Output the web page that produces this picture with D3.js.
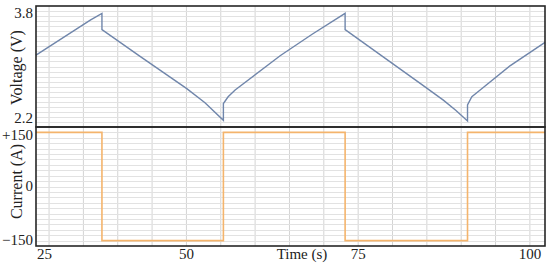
<!DOCTYPE html>
<html>
<head>
<meta charset="utf-8">
<script src="https://cdn.jsdelivr.net/npm/d3@7"></script>
<style>
  html, body { margin: 0; padding: 0; background: #fff; }
  text { font-family: "Liberation Serif", "Times New Roman", serif; fill: #222; }
</style>
</head>
<body>
<svg id="chart" width="550" height="265"></svg>
<script>
// voltage trace
var voltTime = [28.1, 36.0, 37.7, 37.7, 43.25, 50.05, 52.7, 55.38, 55.38, 56.07, 57.09, 63.64, 68.3, 73.1,
                73.1, 84.03, 87.4, 89.2, 90.92, 90.92, 91.55, 92.76, 97.1, 102.2];
var voltage  = [3.17, 3.69, 3.79, 3.55, 3.15, 2.67, 2.46, 2.20, 2.45, 2.55, 2.65, 3.16, 3.48, 3.79,
                3.55, 2.75, 2.50, 2.35, 2.19, 2.43, 2.55, 2.65, 3.01, 3.36];

// current steps
var currTime = [28.1, 37.7, 55.38, 73.1, 90.92, 102.2];
var current  = [150, -150, 150, -150, 150, 150];

var timeTicks = [25, 50, 75, 100];
var voltTicks = [2.2, 3.8];
var currTicks = [-150, 0, 150];
var currTickLabels = ["\u2212150", "0", "+150"];

var svg = d3.select("#chart");

var left = 36, right = 545,
    top1 = 6, mid = 127, bottom = 246;

var x = d3.scaleLinear().domain([28.1, 102.2]).range([left, right]);
var yV = d3.scaleLinear().domain([2.1, 3.9]).range([mid, top1]);
var yI = d3.scaleLinear().domain([-165, 165]).range([bottom, mid]);

// gridlines
var grid = svg.append("g");
var vGrid = d3.range(30, 101, 5);
[[top1, mid], [mid, bottom]].forEach(function(p) {
    grid.selectAll(null)
        .data(vGrid)
        .enter()
        .append("line")
        .attr("x1", function(d) { return x(d); })
        .attr("x2", function(d) { return x(d); })
        .attr("y1", p[0])
        .attr("y2", p[1])
        .attr("stroke", "#d4d4d4")
        .attr("stroke-width", 1);
});

grid.selectAll(null)
    .data(d3.range(1, 24).map(function(i) { return 2.1 + i * 0.075; }))
    .enter()
    .append("line")
    .attr("x1", left).attr("x2", right)
    .attr("y1", function(d) { return Math.round(yV(d)) + 0.5; })
    .attr("y2", function(d) { return Math.round(yV(d)) + 0.5; })
    .attr("stroke", "#e2e2e2");

grid.selectAll(null)
    .data(d3.range(-150, 151, 15))
    .enter()
    .append("line")
    .attr("x1", left).attr("x2", right)
    .attr("y1", function(d) { return Math.round(yI(d)) + 0.5; })
    .attr("y2", function(d) { return Math.round(yI(d)) + 0.5; })
    .attr("stroke", "#e2e2e2");

// voltage line
var vLine = d3.line()
    .x(function(d, i) { return x(voltTime[i]); })
    .y(function(d) { return yV(d); });

svg.append("path")
    .attr("d", vLine(voltage))
    .attr("fill", "none")
    .attr("stroke", "#7086ab")
    .attr("stroke-width", 1.4);

// current line
var iLine = d3.line()
    .x(function(d, i) { return x(currTime[i]); })
    .y(function(d) { return yI(d); })
    .curve(d3.curveStepAfter);

svg.append("path")
    .attr("d", iLine(current))
    .attr("fill", "none")
    .attr("stroke", "#f4b46c")
    .attr("stroke-width", 1.6);

// frames
[[top1, mid], [mid, bottom]].forEach(function(p) {
    svg.append("rect")
        .attr("x", left).attr("y", p[0])
        .attr("width", right - left).attr("height", p[1] - p[0])
        .attr("fill", "none")
        .attr("stroke", "#262626")
        .attr("stroke-width", 1.6);
});

// y tick labels, kept off the divider between the panels
svg.selectAll(".vt")
    .data(voltTicks)
    .enter()
    .append("text")
    .attr("x", left - 3)
    .attr("y", function(d) { return Math.min(yV(d) + 5, mid - 4); })
    .attr("text-anchor", "end")
    .style("font-size", "15px")
    .text(function(d) { return d.toFixed(1); });

svg.selectAll(".it")
    .data(currTicks)
    .enter()
    .append("text")
    .attr("x", left - 3)
    .attr("y", function(d) { return Math.max(yI(d) + 4, mid + 13); })
    .attr("text-anchor", "end")
    .style("font-size", "15px")
    .text(function(d, i) { return currTickLabels[i]; });

// x tick labels (end labels pulled inside the frame)
svg.selectAll(".xt")
    .data(timeTicks)
    .enter()
    .append("text")
    .attr("x", function(d) { return Math.max(left + 1, Math.min(right, x(d))); })
    .attr("y", 259)
    .attr("text-anchor", function(d) {
        if (x(d) < left) return "start";
        if (x(d) > right - 10) return "end";
        return "middle";
    })
    .style("font-size", "15px")
    .text(function(d) { return d; });

svg.append("text")
    .attr("x", 302)
    .attr("y", 259)
    .attr("text-anchor", "middle")
    .style("font-size", "15px")
    .text("Time (s)");

// axis titles
svg.append("text")
    .attr("transform", "translate(22," + ((top1 + mid) / 2 + 1) + ") rotate(-90)")
    .attr("text-anchor", "middle")
    .style("font-size", "16px")
    .text("Voltage (V)");

svg.append("text")
    .attr("transform", "translate(22," + ((mid + bottom) / 2 - 5) + ") rotate(-90)")
    .attr("text-anchor", "middle")
    .style("font-size", "16px")
    .text("Current (A)");
</script>
</body>
</html>
